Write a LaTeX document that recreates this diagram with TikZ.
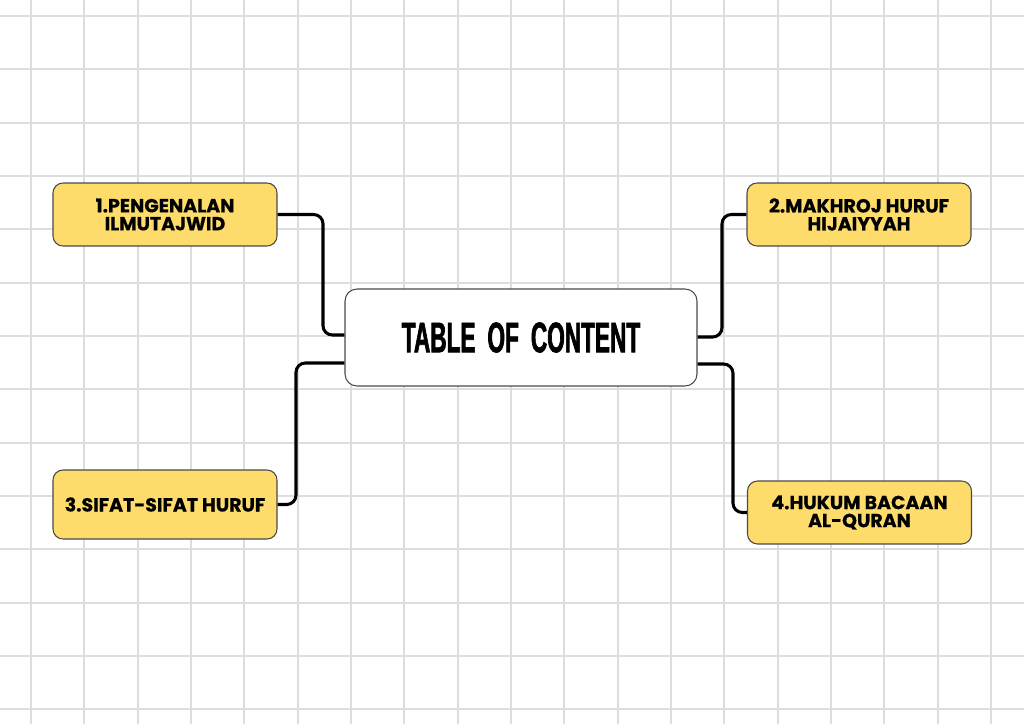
\documentclass[tikz,border=0pt]{standalone}
\usepackage{fontspec}
\setmainfont{Poppins}
\newfontfamily\topicfont[FakeBold=0.6]{Poppins Bold}
\newfontfamily\titlefont[FakeStretch=0.53,FakeBold=1.5]{Liberation Sans Bold}
\usepackage{xcolor}
\usepackage{tikz}
\usetikzlibrary{positioning}

\definecolor{boxyellow}{HTML}{FDDC6B}
\definecolor{gridgray}{HTML}{DDDDDD}
\definecolor{edgegray}{HTML}{4A4A4A}

\begin{document}
\begin{tikzpicture}[x=0.75pt, y=-0.75pt,
    topic/.style={draw=edgegray, line width=0.8pt, fill=boxyellow, rounded corners=7.5pt,
        inner sep=0pt, minimum width=168pt, minimum height=47.25pt, align=center,
        font=\topicfont\fontsize{14.2}{13.5}\selectfont},
    link/.style={line width=2.3pt, rounded corners=7pt}]
    \useasboundingbox (0,0) rectangle (1024,724);
    \fill[white] (0,0) rectangle (1024,724);

    % grid
    \foreach \i in {0,...,19}
        \draw[gridgray, line width=1.5pt] (31+53.33*\i,0) -- (31+53.33*\i,724);
    \foreach \j in {0,...,13}
        \draw[gridgray, line width=1.5pt] (0,16+53.33*\j) -- (1024,16+53.33*\j);

    \node[draw=edgegray, line width=0.8pt, fill=white, rounded corners=9pt, inner sep=0pt,
        minimum width=264pt, minimum height=72.75pt,
        font=\titlefont\fontsize{32}{32}\selectfont] (toc) at (521,337.5)
        {TABLE\hspace{9pt}OF\hspace{9pt}CONTENT};

    \node[topic] (t1) at (165,214.5) {1.PENGENALAN\\ILMUTAJWID};
    \node[topic] (t2) at (859,214.5) {2.MAKHROJ HURUF\\HIJAIYYAH};
    \node[topic, minimum height=51.75pt] (t3) at (165,504.5) {3.SIFAT-SIFAT HURUF};
    \node[topic] (t4) at (859.5,512.5) {4.HUKUM BACAAN\\AL-QURAN};

    \coordinate (k1) at (323,335);
    \coordinate (k2) at (296,363);
    \coordinate (k3) at (722,337);
    \coordinate (k4) at (733,364);

    \draw[link] (t1.east) -| (k1) -- (toc.west |- k1);
    \draw[link] (t3.east) -| (k2) -- (toc.west |- k2);
    \draw[link] (t2.west) -| (k3) -- (toc.east |- k3);
    \draw[link] (t4.west) -| (k4) -- (toc.east |- k4);
\end{tikzpicture}
\end{document}
